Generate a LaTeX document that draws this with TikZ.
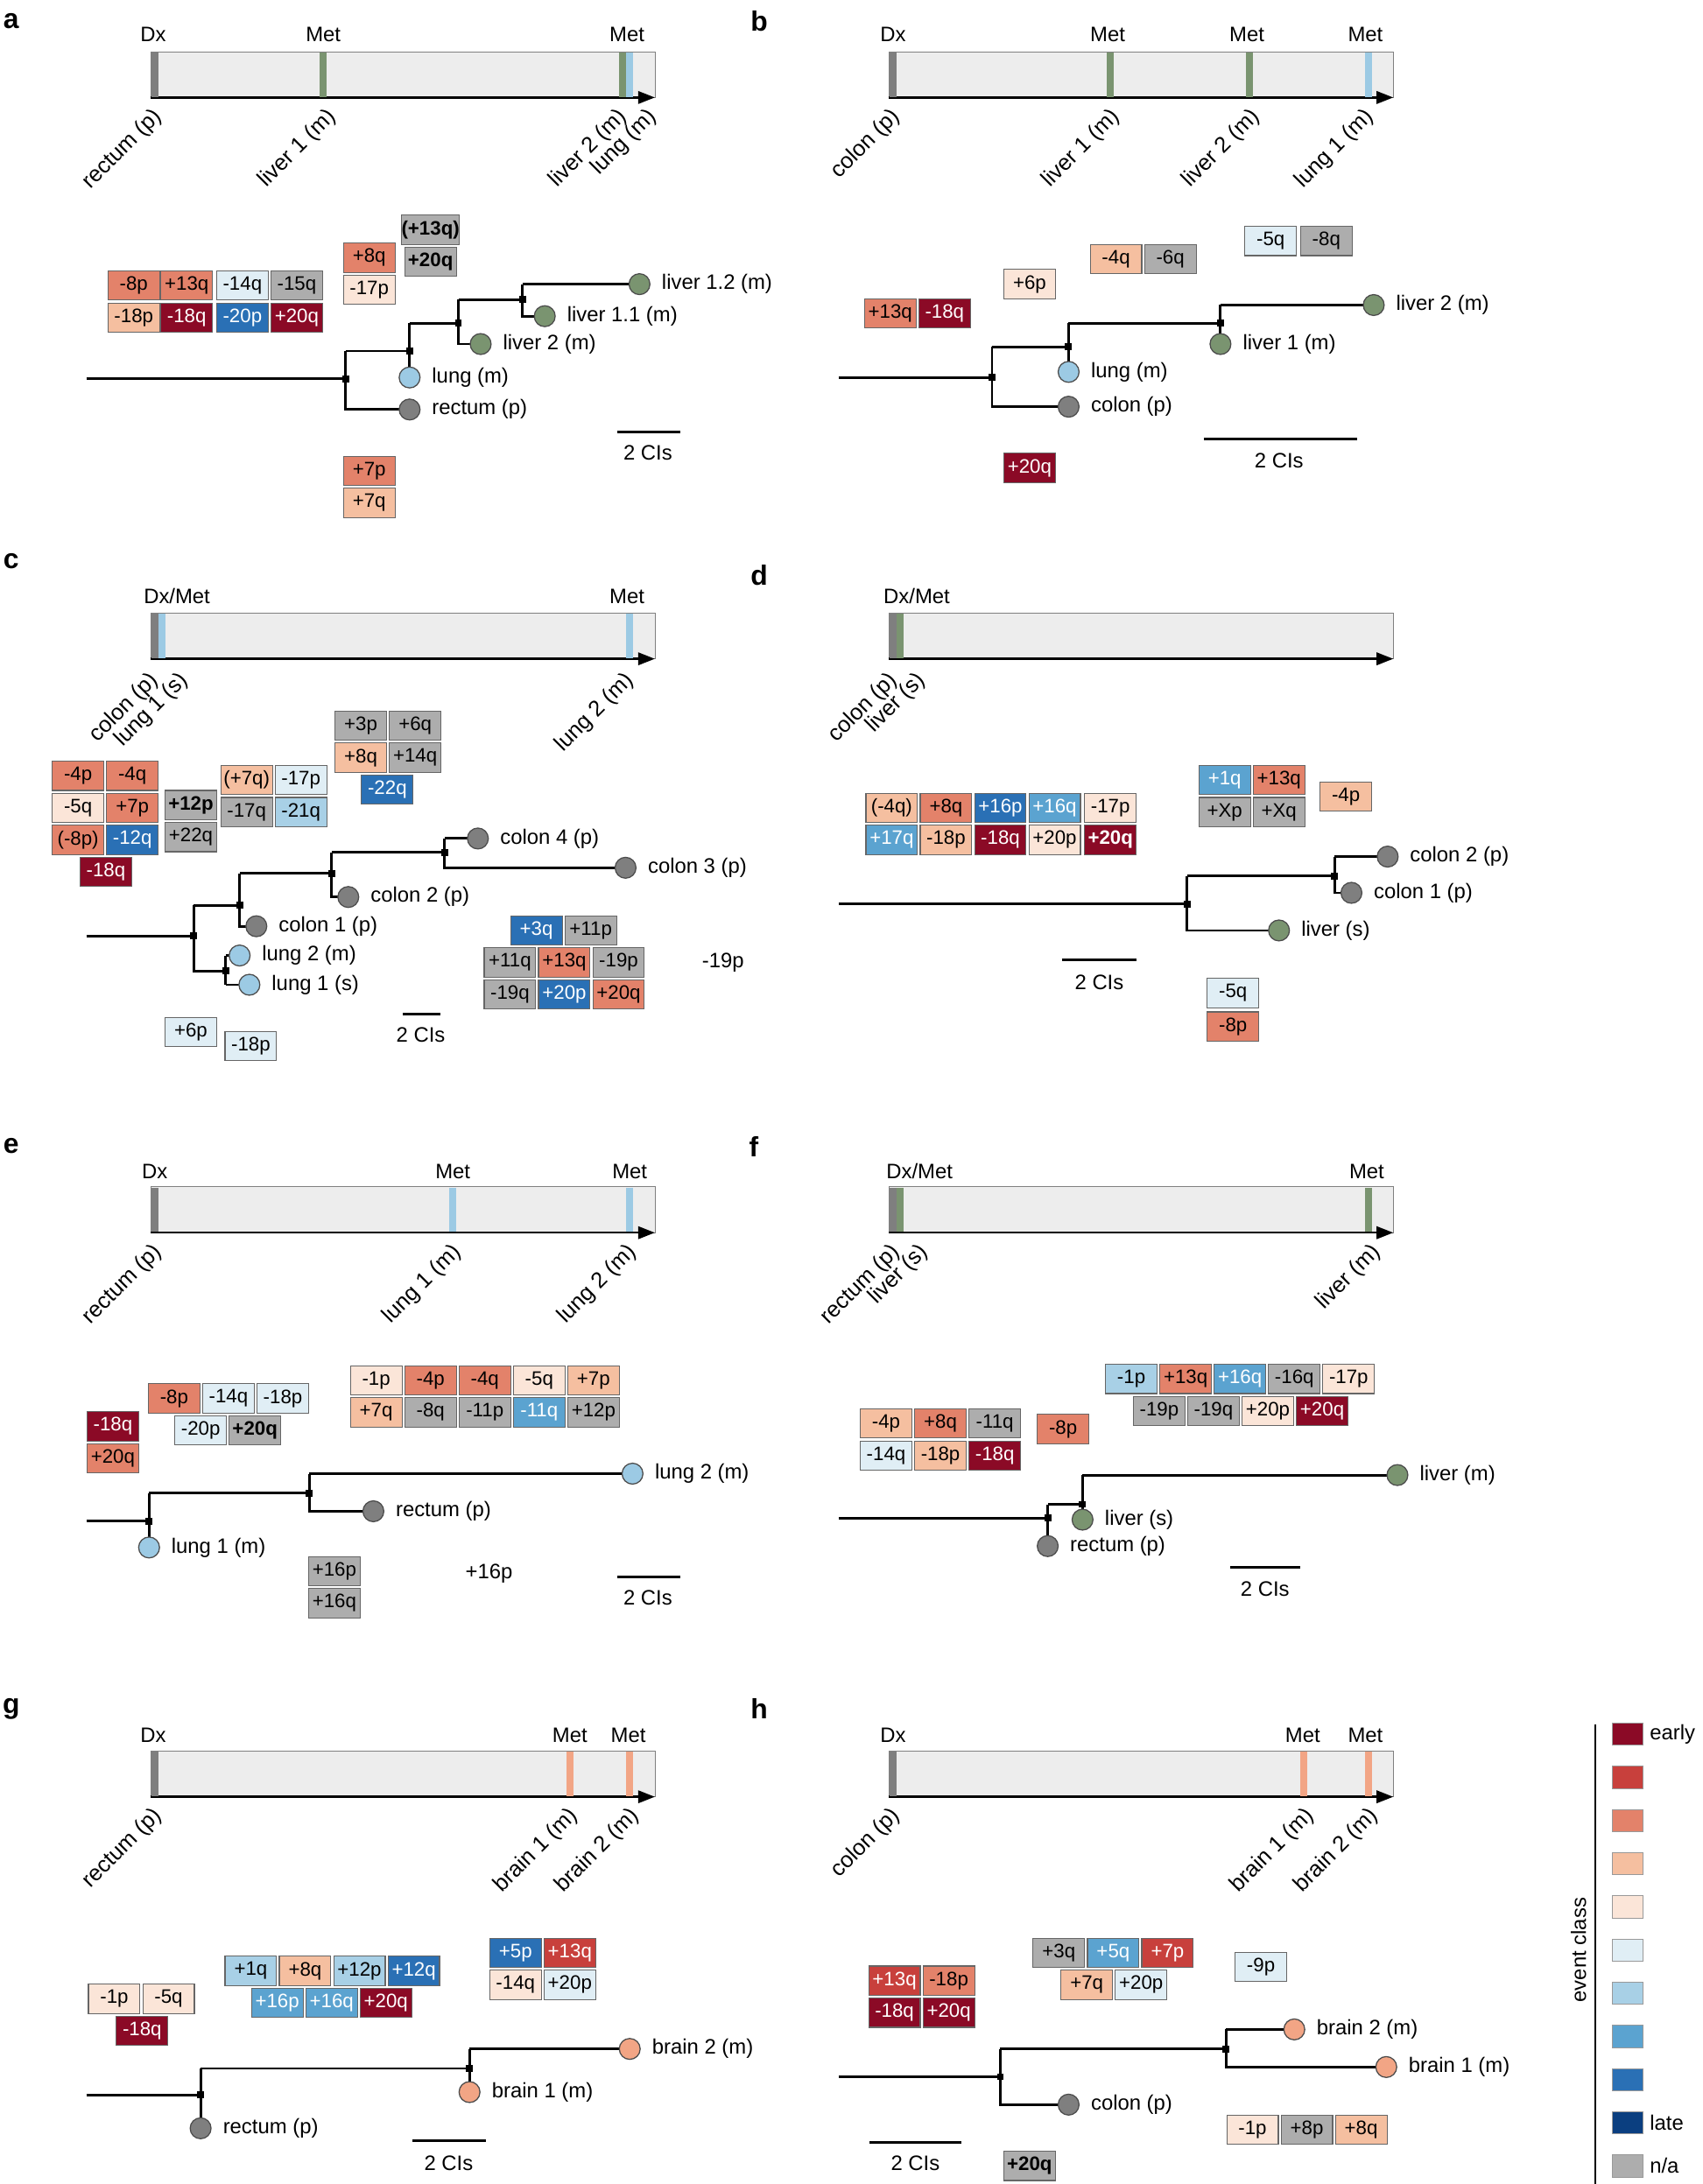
\documentclass[tikz,border=0pt]{standalone}
\usepackage{fontspec}
\setmainfont{Liberation Sans}
\usetikzlibrary{arrows.meta}
\definecolor{cA}{HTML}{8B0A26}\definecolor{cB}{HTML}{C8403C}\definecolor{cC}{HTML}{E3826A}
\definecolor{cD}{HTML}{F5BFA0}\definecolor{cE}{HTML}{FBE5D8}\definecolor{cF}{HTML}{E0EEF5}
\definecolor{cG}{HTML}{A8D0E6}\definecolor{cH}{HTML}{5BA3D0}\definecolor{cI}{HTML}{2A70B5}
\definecolor{cJ}{HTML}{0B3F80}\definecolor{cN}{HTML}{ADADAD}
\definecolor{gr}{HTML}{7A9470}\definecolor{bl}{HTML}{9CCAE4}\definecolor{dg}{HTML}{7F7F7F}\definecolor{or}{HTML}{F2A585}
\tikzset{
 ev/.style={draw=black!60,line width=0.7pt,minimum width=37pt,minimum height=21pt,inner sep=0pt,font=\fontsize{14}{16}\selectfont},
 A/.style={ev,fill=cA,text=white},B/.style={ev,fill=cB,text=white},C/.style={ev,fill=cC},
 D/.style={ev,fill=cD},E/.style={ev,fill=cE},F/.style={ev,fill=cF},G/.style={ev,fill=cG},
 H/.style={ev,fill=cH,text=white},I/.style={ev,fill=cI,text=white},N/.style={ev,fill=cN},
 tree/.style={line width=1.8pt},
 leaf/.style={circle,draw=black!70,line width=0.8pt,minimum size=15pt,inner sep=0pt},
 lab/.style={font=\fontsize{15}{17}\selectfont,inner sep=2pt},
 ll/.style={lab,xshift=6pt},
 rl/.style={lab,font=\fontsize{16}{18}\selectfont,rotate=45,anchor=east},
 pl/.style={font=\bfseries\fontsize{20}{22}\selectfont}
}
\newcommand\ev[3]{\node[#1] at (#2) {#3};}
\newcommand\bp[1]{\fill (#1) +(-2.5,-2.5) rectangle +(2.5,2.5);}
\newcommand\tl[2]{\draw[black!50,fill=black!7] (#1,#2) rectangle ++(362,33);
 \draw[line width=1.5pt,-{Triangle[length=12pt,width=9pt]}] (#1,#2+33) -- ++(362,0);}
\newcommand\mk[3]{\fill[#3] (#1-2.5,#2+0.5) rectangle (#1+2.5,#2+32.5);}
\begin{document}
\begin{tikzpicture}[x=1pt,y=-1pt]
\useasboundingbox (0,0) rectangle (1222,1568);
% panel letters
\node[pl] at (8,15) {a};\node[pl] at (545,15) {b};\node[pl] at (8,403) {c};\node[pl] at (545,413) {d};
\node[pl] at (8,823) {e};\node[pl] at (541,823) {f};\node[pl] at (8,1227) {g};\node[pl] at (545,1227) {h};
% ---- timelines
\tl{108}{37}\mk{111}{37}{dg}\mk{232}{37}{gr}\mk{447}{37}{gr}\mk{452}{37}{bl}
\node[lab] at (110,25){Dx};\node[lab] at (232,25){Met};\node[lab] at (450,25){Met};
\node[rl] at (115,80){rectum (p)};\node[rl] at (240,80){liver 1 (m)};\node[rl] at (449,80){liver 2 (m)};\node[rl] at (470,80){lung (m)};
\tl{638}{37}\mk{641}{37}{dg}\mk{797}{37}{gr}\mk{897}{37}{gr}\mk{982}{37}{bl}
\node[lab] at (641,25){Dx};\node[lab] at (795,25){Met};\node[lab] at (895,25){Met};\node[lab] at (980,25){Met};
\node[rl] at (645,80){colon (p)};\node[rl] at (803,80){liver 1 (m)};\node[rl] at (903,80){liver 2 (m)};\node[rl] at (985,80){lung 1 (m)};
\tl{108}{440}\mk{111}{440}{dg}\mk{116}{440}{bl}\mk{452}{440}{bl}
\node[lab] at (127,428){Dx/Met};\node[lab] at (450,428){Met};
\node[rl] at (113,485){colon (p)};\node[rl] at (134,485){lung 1 (s)};\node[rl] at (454,485){lung 2 (m)};
\tl{638}{440}\mk{641}{440}{dg}\mk{646}{440}{gr}
\node[lab] at (658,428){Dx/Met};
\node[rl] at (643,485){colon (p)};\node[rl] at (663,485){liver (s)};
\tl{108}{852}\mk{111}{852}{dg}\mk{325}{852}{bl}\mk{452}{852}{bl}
\node[lab] at (111,841){Dx};\node[lab] at (325,841){Met};\node[lab] at (452,841){Met};
\node[rl] at (115,895){rectum (p)};\node[rl] at (330,895){lung 1 (m)};\node[rl] at (456,895){lung 2 (m)};
\tl{638}{852}\mk{641}{852}{dg}\mk{646}{852}{gr}\mk{982}{852}{gr}
\node[lab] at (660,841){Dx/Met};\node[lab] at (981,841){Met};
\node[rl] at (645,895){rectum (p)};\node[rl] at (665,895){liver (s)};\node[rl] at (990,895){liver (m)};
\tl{108}{1257}\mk{111}{1257}{dg}\mk{409}{1257}{or}\mk{452}{1257}{or}
\node[lab] at (110,1246){Dx};\node[lab] at (409,1246){Met};\node[lab] at (451,1246){Met};
\node[rl] at (115,1300){rectum (p)};\node[rl] at (414,1300){brain 1 (m)};\node[rl] at (458,1300){brain 2 (m)};
\tl{638}{1257}\mk{641}{1257}{dg}\mk{936}{1257}{or}\mk{982}{1257}{or}
\node[lab] at (641,1246){Dx};\node[lab] at (935,1246){Met};\node[lab] at (980,1246){Met};
\node[rl] at (645,1300){colon (p)};\node[rl] at (942,1300){brain 1 (m)};\node[rl] at (988,1300){brain 2 (m)};
% ---- panel a tree
\draw[tree] (62,272)--(248,272) (248,252)--(248,294)--(294,294) (248,252)--(294,252) (294,232)--(294,271)
 (294,232)--(329,232) (329,215)--(329,247)--(345,247) (329,215)--(375,215) (375,204)--(375,227)--(391,227) (375,204)--(459,204);
\bp{248,272}\bp{294,252}\bp{329,232}\bp{375,215}
\node[leaf,fill=dg,label={[ll]right:rectum (p)}] (ar) at (294,294){};
\node[leaf,fill=bl,label={[ll]right:lung (m)}] (al) at (294,271){};
\node[leaf,fill=gr,label={[ll]right:liver 2 (m)}] (a2) at (345,247){};
\node[leaf,fill=gr,label={[ll]right:liver 1.1 (m)}] (a11) at (391,227){};
\node[leaf,fill=gr,label={[ll]right:liver 1.2 (m)}] (a12) at (459,204){};
\draw[tree] (443,310)--(488,310);\node[lab] at (465,325){2 CIs};
\ev{C}{96,205}{-8p}\ev{C}{134,205}{+13q}\ev{F}{174,205}{-14q}\ev{N}{213,205}{-15q}
\ev{D}{96,228}{-18p}\ev{A}{134,228}{-18q}\ev{I}{174,228}{-20p}\ev{A}{213,228}{+20q}
\ev{C}{265,185}{+8q}\ev{E}{265,208}{-17p}\ev{N}{309,165}{\textbf{(+13q)}}\ev{N}{309,188}{\textbf{+20q}}
\ev{C}{265,338}{+7p}\ev{D}{265,361}{+7q}
% ---- panel b tree
\draw[tree] (602,271)--(712,271) (712,249)--(712,292)--(767,292) (712,249)--(767,249) (767,232)--(767,267)
 (767,232)--(876,232) (876,219)--(876,247) (876,219)--(986,219);
\bp{712,271}\bp{767,249}\bp{876,232}
\node[leaf,fill=dg,label={[ll]right:colon (p)}] (bc) at (767,292){};
\node[leaf,fill=bl,label={[ll]right:lung (m)}] (bl) at (767,267){};
\node[leaf,fill=gr,label={[ll]right:liver 1 (m)}] (b1) at (876,247){};
\node[leaf,fill=gr,label={[ll]right:liver 2 (m)}] (b2) at (986,219){};
\draw[tree] (864,315)--(974,315);\node[lab] at (918,331){2 CIs};
\ev{C}{639,225}{+13q}\ev{A}{678,225}{-18q}\ev{E}{739,204}{+6p}\ev{D}{801,186}{-4q}\ev{N}{840,186}{-6q}
\ev{F}{912,173}{-5q}\ev{N}{952,173}{-8q}\ev{A}{739,336}{+20q}
% ---- panel c tree
\draw[tree] (62,672)--(139,672) (139,650)--(139,697)--(162,697) (162,686)--(162,707) (162,686)--(172,686) (162,707)--(179,707)
 (139,650)--(172,650) (172,627)--(172,665)--(184,665) (172,627)--(238,627) (238,612)--(238,644)--(250,644)
 (238,612)--(319,612) (319,602)--(319,623)--(449,623) (319,602)--(343,602);
\bp{139,672}\bp{162,697}\bp{172,650}\bp{238,627}\bp{319,612}
\node[leaf,fill=bl,label={[ll]right:lung 2 (m)}] (cl2) at (172,686){};
\node[leaf,fill=bl,label={[ll]right:lung 1 (s)}] (cl1) at (179,707){};
\node[leaf,fill=dg,label={[ll]right:colon 1 (p)}] (cc1) at (184,665){};
\node[leaf,fill=dg,label={[ll]right:colon 2 (p)}] (cc2) at (250,644){};
\node[leaf,fill=dg,label={[ll]right:colon 4 (p)}] (cc4) at (343,602){};
\node[leaf,fill=dg,label={[ll]right:colon 3 (p)}] (cc3) at (449,623){};
\draw[tree] (289,728)--(316,728);\node[lab] at (302,743){2 CIs};
\ev{C}{56,557}{-4p}\ev{C}{95,557}{-4q}\ev{E}{56,580}{-5q}\ev{C}{95,580}{+7p}\ev{N}{137,578}{\textbf{+12p}}
\ev{C}{56,603}{(-8p)}\ev{I}{95,603}{-12q}\ev{N}{137,601}{+22q}\ev{A}{76,626}{-18q}
\ev{D}{177,560}{(+7q)}\ev{F}{216,560}{-17p}\ev{N}{177,583}{-17q}\ev{G}{216,583}{-21q}
\ev{N}{259,521}{+3p}\ev{N}{298,521}{+6q}\ev{D}{259,544}{+8q}\ev{N}{298,544}{+14q}\ev{I}{278,567}{-22q}
\ev{I}{385,668}{+3q}\ev{N}{424,668}{+11p}\ev{N}{366,691}{+11q}\ev{C}{405,691}{+13q}\ev{N}{444,691}{-19p}
\ev{N}{366,714}{-19q}\ev{I}{405,714}{+20p}\ev{C}{444,714}{+20q}
\node[lab] at (519,691){-19p};
\ev{F}{137,741}{+6p}\ev{F}{180,751}{-18p}
% ---- panel d tree
\draw[tree] (602,649)--(852,649) (852,629)--(852,668)--(918,668) (852,629)--(958,629) (958,615)--(958,641)--(970,641) (958,615)--(996,615);
\bp{852,649}\bp{958,629}
\node[leaf,fill=gr,label={[ll]right:liver (s)}] (dl) at (918,668){};
\node[leaf,fill=dg,label={[ll]right:colon 1 (p)}] (dc1) at (970,641){};
\node[leaf,fill=dg,label={[ll]right:colon 2 (p)}] (dc2) at (996,615){};
\draw[tree] (762,689)--(816,689);\node[lab] at (789,705){2 CIs};
\ev{D}{640,580}{(-4q)}\ev{C}{679,580}{+8q}\ev{I}{718,580}{+16p}\ev{H}{757,580}{+16q}\ev{E}{797,580}{-17p}
\ev{H}{640,603}{+17q}\ev{D}{679,603}{-18p}\ev{A}{718,603}{-18q}\ev{E}{757,603}{+20p}\ev{A}{797,603}{\textbf{+20q}}
\ev{H}{879,560}{+1q}\ev{C}{918,560}{+13q}\ev{N}{879,583}{+Xp}\ev{N}{918,583}{+Xq}\ev{D}{966,572}{-4p}
\ev{F}{885,713}{-5q}\ev{C}{885,737}{-8p}
% ---- panel e tree
\draw[tree] (62,1092)--(107,1092) (107,1072)--(107,1111) (107,1072)--(222,1072) (222,1058)--(222,1085)--(268,1085) (222,1058)--(454,1058);
\bp{107,1092}\bp{222,1072}
\node[leaf,fill=bl,label={[ll]right:lung 1 (m)}] (el1) at (107,1111){};
\node[leaf,fill=dg,label={[ll]right:rectum (p)}] (er) at (268,1085){};
\node[leaf,fill=bl,label={[ll]right:lung 2 (m)}] (el2) at (454,1058){};
\draw[tree] (443,1132)--(488,1132);\node[lab] at (465,1147){2 CIs};
\ev{A}{81,1024}{-18q}\ev{C}{81,1047}{+20q}\ev{C}{125,1004}{-8p}\ev{F}{164,1004}{-14q}\ev{F}{203,1004}{-18p}
\ev{F}{144,1027}{-20p}\ev{N}{183,1027}{\textbf{+20q}}
\ev{E}{270,991}{-1p}\ev{C}{309,991}{-4p}\ev{C}{348,991}{-4q}\ev{E}{387,991}{-5q}\ev{D}{426,991}{+7p}
\ev{D}{270,1014}{+7q}\ev{N}{309,1014}{-8q}\ev{N}{348,1014}{-11p}\ev{H}{387,1014}{-11q}\ev{N}{426,1014}{+12p}
\ev{N}{240,1128}{+16p}\ev{N}{240,1151}{+16q}\node[lab] at (351,1130){+16p};
% ---- panel f tree
\draw[tree] (602,1090)--(752,1090) (752,1080)--(752,1110) (752,1080)--(777,1080) (777,1059)--(777,1091) (777,1059)--(1003,1059);
\bp{752,1090}\bp{777,1080}
\node[leaf,fill=dg,label={[ll]right:rectum (p)}] (fr) at (752,1110){};
\node[leaf,fill=gr,label={[ll]right:liver (s)}] (fs) at (777,1091){};
\node[leaf,fill=gr,label={[ll]right:liver (m)}] (fm) at (1003,1059){};
\draw[tree] (883,1125)--(933,1125);\node[lab] at (908,1141){2 CIs};
\ev{D}{636,1022}{-4p}\ev{C}{675,1022}{+8q}\ev{N}{714,1022}{-11q}\ev{F}{636,1045}{-14q}\ev{D}{675,1045}{-18p}\ev{A}{714,1045}{-18q}
\ev{C}{763,1026}{-8p}
\ev{G}{812,990}{-1p}\ev{C}{851,990}{+13q}\ev{H}{890,990}{+16q}\ev{N}{929,990}{-16q}\ev{E}{968,990}{-17p}
\ev{N}{832,1013}{-19p}\ev{N}{871,1013}{-19q}\ev{E}{910,1013}{+20p}\ev{A}{949,1013}{+20q}
% ---- panel g tree
\draw[tree] (62,1504)--(144,1504) (144,1485)--(144,1528) (144,1485)--(337,1485) (337,1471)--(337,1502) (337,1471)--(452,1471);
\bp{144,1504}\bp{337,1485}
\node[leaf,fill=dg,label={[ll]right:rectum (p)}] (gr) at (144,1528){};
\node[leaf,fill=or,label={[ll]right:brain 1 (m)}] (gb1) at (337,1502){};
\node[leaf,fill=or,label={[ll]right:brain 2 (m)}] (gb2) at (452,1471){};
\draw[tree] (296,1537)--(349,1537);\node[lab] at (322,1553){2 CIs};
\ev{E}{82,1435}{-1p}\ev{E}{121,1435}{-5q}\ev{A}{102,1458}{-18q}
\ev{G}{180,1415}{+1q}\ev{D}{219,1415}{+8q}\ev{G}{258,1415}{+12p}\ev{I}{297,1415}{+12q}
\ev{H}{199,1438}{+16p}\ev{H}{238,1438}{+16q}\ev{A}{277,1438}{+20q}
\ev{I}{370,1402}{+5p}\ev{B}{409,1402}{+13q}\ev{E}{370,1425}{-14q}\ev{F}{409,1425}{+20p}
% ---- panel h tree
\draw[tree] (602,1491)--(718,1491) (718,1471)--(718,1511)--(767,1511) (718,1471)--(880,1471) (880,1457)--(880,1484)--(995,1484) (880,1457)--(929,1457);
\bp{718,1491}\bp{880,1471}
\node[leaf,fill=dg,label={[ll]right:colon (p)}] (hc) at (767,1511){};
\node[leaf,fill=or,label={[ll]right:brain 2 (m)}] (hb2) at (929,1457){};
\node[leaf,fill=or,label={[ll]right:brain 1 (m)}] (hb1) at (995,1484){};
\draw[tree] (624,1538)--(690,1538);\node[lab] at (657,1553){2 CIs};
\ev{B}{642,1422}{+13q}\ev{C}{681,1422}{-18p}\ev{A}{642,1445}{-18q}\ev{A}{681,1445}{+20q}
\ev{N}{760,1402}{+3q}\ev{H}{799,1402}{+5q}\ev{B}{838,1402}{+7p}\ev{D}{780,1425}{+7q}\ev{F}{819,1425}{+20p}
\ev{F}{905,1412}{-9p}\ev{E}{899,1529}{-1p}\ev{N}{938,1529}{+8p}\ev{D}{977,1529}{+8q}\ev{N}{739,1555}{\textbf{+20q}}
% ---- legend
\draw[line width=0.8pt] (1145,1238)--(1145,1568);
\node[lab,rotate=90] at (1133,1400){event class};
\foreach \c [count=\i from 0] in {cA,cB,cC,cD,cE,cF,cG,cH,cI,cJ,cN}
  \node[draw=black!40,fill=\c,minimum width=22pt,minimum height=16pt,inner sep=0pt] (lg\i) at (1168,1245+31*\i){};
\node[lab,anchor=west] at (1182,1245){early};\node[lab,anchor=west] at (1182,1524){late};\node[lab,anchor=west] at (1182,1555){n/a};
\end{tikzpicture}
\end{document}
